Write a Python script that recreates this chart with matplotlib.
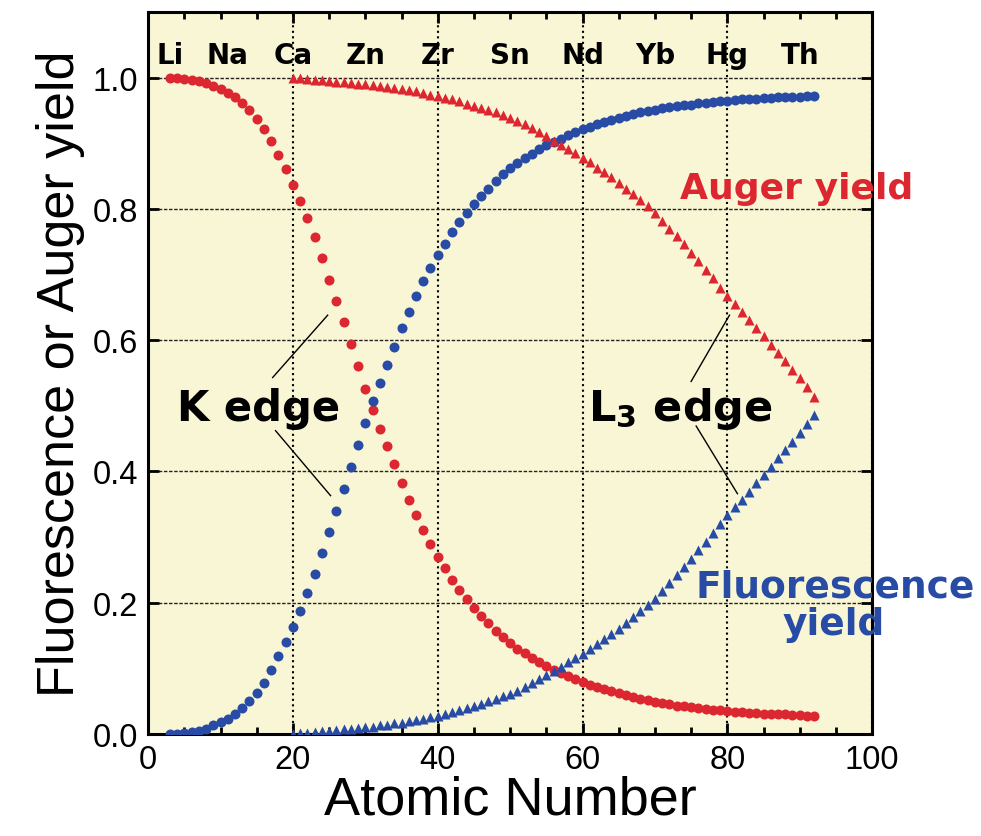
import numpy as np
import matplotlib
matplotlib.use("Agg")
import matplotlib.pyplot as plt
from matplotlib.ticker import MultipleLocator

# K shell yields, Z = 3 .. 92
z_k = list(range(3, 93))
fluor_k = [0.000, 0.000, 0.002, 0.003, 0.005, 0.008, 0.013, 0.018, 0.023, 0.030,
           0.039, 0.050, 0.063, 0.078, 0.097, 0.118, 0.140, 0.163, 0.188, 0.214,
           0.243, 0.275, 0.308, 0.340, 0.373, 0.406, 0.440, 0.474, 0.507, 0.535,
           0.562, 0.589, 0.618, 0.643, 0.667, 0.690, 0.710, 0.730, 0.747, 0.765,
           0.780, 0.794, 0.808, 0.820, 0.831, 0.843, 0.853, 0.862, 0.870, 0.877,
           0.884, 0.891, 0.897, 0.902, 0.907, 0.912, 0.917, 0.921, 0.925, 0.929,
           0.932, 0.935, 0.938, 0.941, 0.944, 0.947, 0.949, 0.951, 0.953, 0.955,
           0.957, 0.958, 0.959, 0.961, 0.962, 0.963, 0.964, 0.965, 0.966, 0.967,
           0.968, 0.968, 0.969, 0.969, 0.970, 0.970, 0.971, 0.971, 0.972, 0.972]
auger_k = [1.000, 1.000, 0.998, 0.997, 0.995, 0.992, 0.987, 0.982, 0.977, 0.970,
           0.961, 0.950, 0.937, 0.922, 0.903, 0.882, 0.860, 0.837, 0.812, 0.786,
           0.757, 0.725, 0.692, 0.660, 0.627, 0.594, 0.560, 0.526, 0.493, 0.465,
           0.438, 0.411, 0.382, 0.357, 0.333, 0.310, 0.290, 0.270, 0.253, 0.235,
           0.220, 0.206, 0.192, 0.180, 0.169, 0.157, 0.147, 0.138, 0.130, 0.123,
           0.116, 0.109, 0.103, 0.098, 0.093, 0.088, 0.083, 0.079, 0.075, 0.071,
           0.068, 0.065, 0.062, 0.059, 0.056, 0.053, 0.051, 0.049, 0.047, 0.045,
           0.043, 0.042, 0.041, 0.039, 0.038, 0.037, 0.036, 0.035, 0.034, 0.033,
           0.032, 0.032, 0.031, 0.031, 0.030, 0.030, 0.029, 0.029, 0.028, 0.028]

# L3 shell yields, Z = 20 .. 92
z_l3 = list(range(20, 93))
fluor_l3 = [0.000, 0.001, 0.002, 0.003, 0.004, 0.005, 0.006, 0.007, 0.008, 0.009,
            0.010, 0.011, 0.013, 0.014, 0.016, 0.017, 0.019, 0.021, 0.023, 0.026,
            0.028, 0.031, 0.033, 0.036, 0.040, 0.043, 0.046, 0.050, 0.053, 0.057,
            0.061, 0.066, 0.071, 0.077, 0.083, 0.089, 0.096, 0.102, 0.109, 0.115,
            0.122, 0.129, 0.137, 0.144, 0.152, 0.160, 0.169, 0.178, 0.187, 0.196,
            0.206, 0.218, 0.230, 0.242, 0.254, 0.267, 0.280, 0.293, 0.306, 0.320,
            0.333, 0.345, 0.357, 0.369, 0.382, 0.394, 0.407, 0.420, 0.432, 0.445,
            0.458, 0.472, 0.486]
auger_l3 = [1.000, 0.999, 0.998, 0.997, 0.996, 0.995, 0.994, 0.993, 0.992, 0.991,
            0.990, 0.989, 0.987, 0.986, 0.984, 0.983, 0.981, 0.979, 0.977, 0.974,
            0.972, 0.969, 0.967, 0.964, 0.960, 0.957, 0.954, 0.950, 0.947, 0.943,
            0.939, 0.934, 0.929, 0.923, 0.917, 0.911, 0.904, 0.898, 0.891, 0.885,
            0.878, 0.871, 0.863, 0.856, 0.848, 0.840, 0.831, 0.822, 0.813, 0.804,
            0.794, 0.782, 0.770, 0.758, 0.746, 0.733, 0.720, 0.707, 0.694, 0.680,
            0.667, 0.655, 0.643, 0.631, 0.618, 0.606, 0.593, 0.580, 0.568, 0.555,
            0.542, 0.528, 0.514]

# element markers along the top
elements = ["Li", "Na", "Ca", "Zn", "Zr", "Sn", "Nd", "Yb", "Hg", "Th"]
element_z = [3, 11, 20, 30, 40, 50, 60, 70, 80, 90]

red = "#dc2630"
blue = "#284ba6"
plain = ["Liberation Sans", "DejaVu Sans"]
bold = ["DejaVu Sans"]

fig = plt.figure(figsize=(9.81, 8.37), dpi=100)
ax = fig.add_axes([0.151, 0.122, 0.738, 0.8625])
ax.set_facecolor("#f8f6d4")

ax.plot(z_k, auger_k, "o", color=red, ms=7.2, mec="none", zorder=3)
ax.plot(z_k, fluor_k, "o", color=blue, ms=7.2, mec="none", zorder=3)
ax.plot(z_l3, auger_l3, "^", color=red, ms=7.4, mec="none", zorder=3)
ax.plot(z_l3, fluor_l3, "^", color=blue, ms=7.4, mec="none", zorder=3)

ax.set_xlim(0, 100)
ax.set_ylim(0, 1.1)
ax.set_xticks([0, 20, 40, 60, 80, 100])
ax.xaxis.set_minor_locator(MultipleLocator(5))
ax.set_yticks([0.0, 0.2, 0.4, 0.6, 0.8, 1.0])
ax.set_yticklabels(["0.0", "0.2", "0.4", "0.6", "0.8", "1.0"])
ax.tick_params(which="both", direction="in", top=True, right=True, width=2)
ax.tick_params(which="major", length=8, labelsize=23.5, pad=7)
ax.tick_params(which="minor", length=5)
for lab in ax.get_xticklabels() + ax.get_yticklabels():
    lab.set_family(plain)
for s in ax.spines.values():
    s.set_linewidth(2.2)

ax.xaxis.grid(True, linestyle=":", color="black", linewidth=1.5)
ax.yaxis.grid(True, linestyle=(0, (2.5, 1.2)), color="#222222", linewidth=1.0)
ax.set_axisbelow(True)

ax.set_xlabel("Atomic Number", fontsize=39, family=plain, labelpad=0)
ax.set_ylabel("Fluorescence or Auger yield", fontsize=37.5, family=plain, labelpad=6)

for name, z in zip(elements, element_z):
    ax.text(z, 1.035, name, ha="center", va="center", fontsize=20,
            fontweight="bold", family=bold)

# K edge label with pointer lines
ax.text(15.3, 0.497, "K edge", ha="center", va="center", fontsize=30,
        fontweight="bold", family=bold)
ax.plot([17.2, 24.8], [0.543, 0.638], color="black", lw=1)
ax.plot([17.6, 25.2], [0.462, 0.363], color="black", lw=1)

# L3 edge label with pointer lines
ax.text(73.5, 0.497, "L$_\\mathregular{3}$ edge", ha="center", va="center",
        fontsize=31, fontweight="bold", family=bold)
ax.plot([75.0, 80.3], [0.537, 0.638], color="black", lw=1)
ax.plot([75.7, 81.4], [0.469, 0.366], color="black", lw=1)

ax.text(89.6, 0.832, "Auger yield", ha="center", va="center", fontsize=26,
        fontweight="bold", color=red, family=bold)
ax.text(114.2, 0.224, "Fluorescence", ha="right", va="center", fontsize=27,
        fontweight="bold", color=blue, family=bold, clip_on=False)
ax.text(101.8, 0.168, "yield", ha="right", va="center", fontsize=27,
        fontweight="bold", color=blue, family=bold, clip_on=False)

fig.savefig("out.png", dpi=100)
